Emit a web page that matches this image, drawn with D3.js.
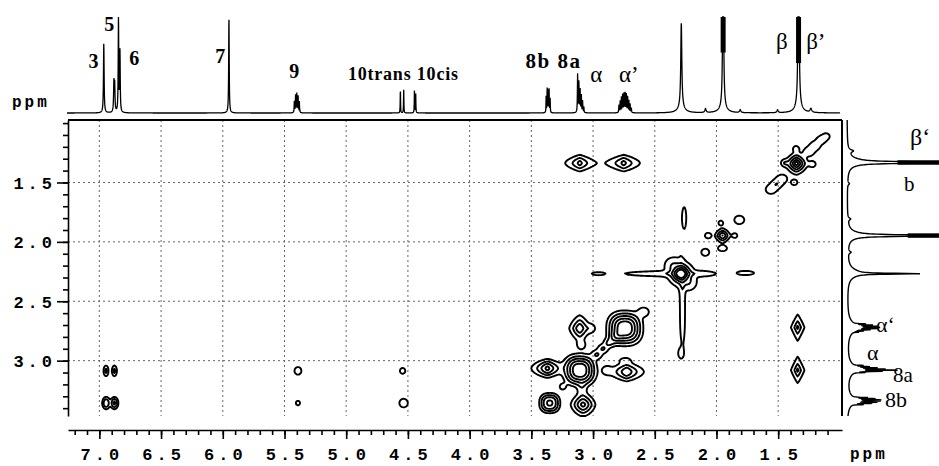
<!DOCTYPE html>
<html><head><meta charset="utf-8">
<script src="https://cdn.jsdelivr.net/npm/d3@7"></script>
<style>body{margin:0;background:#fff}svg{display:block}</style>
</head><body>
<svg id="c" width="939" height="466"></svg>
<script>
// ---------------- DATA ----------------
const xDomain = [7.254, 0.983];           // F2 (ppm)
const yDomain = [0.974, 3.466];           // F1 (ppm)
const xTicks = [7.0, 6.5, 6.0, 5.5, 5.0, 4.5, 4.0, 3.5, 3.0, 2.5, 2.0, 1.5];
const xTickLabels = ["7.0","6.5","6.0","5.5","5.0","4.5","4.0","3.5","3.0","2.5","2.0","1.5"];
const yTicks = [1.5, 2.0, 2.5, 3.0];
const yTickLabels = ["1.5","2.0","2.5","3.0"];
const axisUnit = "ppm";

// top 1D projection lines: [ppm, height (0-100), half width ppm]
const topLines = [
  [6.964,73,0.003],[6.882,30,0.003],[6.876,28,0.003],[6.845,99,0.0025],[6.833,63,0.0025],
  [5.950,100,0.0025],
  [5.420,12,0.002],[5.410,18,0.002],[5.400,20,0.002],[5.390,18,0.002],[5.380,12,0.002],
  [4.561,25,0.0015],[4.534,25,0.0015],[4.447,25,0.0015],[4.437,22,0.0015],
  [3.380,18,0.0015],[3.372,25,0.0015],[3.364,26,0.0015],[3.356,24,0.0015],[3.348,16,0.0015],
  [3.125,40,0.002],[3.115,33,0.002],[3.105,25,0.002],[3.095,18,0.002],[3.085,12,0.002],[3.075,6,0.002],
  [2.790,8,0.002],[2.780,12,0.002],[2.770,16,0.002],[2.760,19,0.002],[2.750,20,0.002],[2.740,20,0.002],
  [2.730,19,0.002],[2.720,17,0.002],[2.710,13,0.002],[2.700,9,0.002],[2.690,5,0.002],
  [2.285,88,0.005],[2.285,6,0.03],
  [2.089,4,0.006],
  [1.946,200,0.004],[1.946,6,0.03],
  [1.808,3,0.006],[1.505,3,0.006],
  [1.335,250,0.004],[1.335,7,0.03],
  [1.235,4,0.008]
];
// saturated (clipped) top peaks: [ppm, lower intensity of the black core]
const topSaturated = [[1.946, 63], [1.335, 52]];

// right 1D projection lines: [ppm, height (0-100), half width ppm]
const rightLines = [
  [1.234,5,0.012],
  [1.332,250,0.004],[1.325,12,0.035],
  [1.510,2,0.01],[1.807,3,0.01],
  [1.947,220,0.004],[1.940,10,0.035],
  [2.087,3,0.01],
  [2.268,68,0.004],[2.262,12,0.04],
  [2.690,12,0.002],[2.700,18,0.002],[2.710,22,0.002],[2.720,25,0.002],[2.730,22,0.002],
  [2.740,16,0.002],[2.750,10,0.002],[2.760,6,0.002],[2.720,10,0.05],
  [3.040,10,0.002],[3.050,15,0.002],[3.060,22,0.002],[3.070,30,0.002],[3.080,45,0.002],
  [3.090,30,0.002],[3.100,12,0.002],[3.070,9,0.05],
  [3.310,15,0.002],[3.320,22,0.002],[3.330,28,0.002],[3.340,28,0.002],[3.350,25,0.002],
  [3.360,20,0.002],[3.370,12,0.002],[3.335,8,0.045]
];
const rightSaturated = [[1.332, 55], [1.947, 66]];

// 2D cross / diagonal peaks: [F2 ppm, F1 ppm, rx ppm, ry ppm, height, shapeX, shapeY]
const crossPeaks = [
  // aromatic / olefinic correlations
  [6.946,3.086,0.020,0.045,0.30,2,2],[6.878,3.086,0.020,0.045,0.30,2,2],
  [6.945,3.357,0.032,0.052,0.45,2,2],[6.878,3.357,0.032,0.052,0.50,2,2],
  [5.391,3.086,0.028,0.032,0.17,2,2],[5.391,3.357,0.017,0.019,0.13,2,2],
  [4.543,3.086,0.022,0.024,0.14,2,2],[4.535,3.357,0.034,0.036,0.18,2,2],
  // beta correlations
  [3.108,1.337,0.118,0.070,0.55,1.1,1.7],[2.752,1.337,0.132,0.070,0.55,1.1,1.7],
  // beta diagonal
  [1.352,1.340,0.095,0.095,1.10,1.5,1.5],
  [1.560,1.560,0.040,0.035,0.20,2,2],[1.515,1.515,0.040,0.035,0.20,2,2],[1.470,1.470,0.040,0.035,0.20,2,2],
  [1.250,1.240,0.040,0.035,0.20,2,2],[1.200,1.190,0.040,0.035,0.20,2,2],[1.150,1.140,0.035,0.030,0.20,2,2],
  [1.110,1.110,0.025,0.022,0.16,2,2],
  [1.450,1.335,0.022,0.022,0.18,2,2],[1.370,1.500,0.024,0.022,0.18,2,2],
  [1.220,1.346,0.022,0.022,0.17,2,2],[1.356,1.215,0.020,0.020,0.17,2,2],
  // 1.94 diagonal group
  [1.951,1.947,0.060,0.060,0.70,1.6,1.6],[2.068,1.947,0.024,0.022,0.18,2,2],
  [2.090,2.087,0.028,0.026,0.18,2,2],[1.951,2.055,0.034,0.022,0.17,2,2],
  [1.815,1.815,0.040,0.035,0.18,2,2],[1.965,1.840,0.018,0.018,0.15,2,2],[1.850,1.947,0.018,0.018,0.15,2,2],
  // 2.27 diagonal (ring + star skirt) and ridges
  [2.289,2.268,0.085,0.085,1.00,2,2],
  [2.289,2.268,0.150,0.140,0.35,0.8,0.8],
  [2.360,2.190,0.035,0.035,0.15,2,2],[2.220,2.350,0.035,0.035,0.15,2,2],
  [2.262,1.796,0.016,0.085,0.20,2,2],[2.275,2.500,0.012,0.150,0.15,2,2],[2.275,2.720,0.012,0.110,0.14,2,2],
  [2.289,2.938,0.020,0.040,0.18,2,2],[2.550,2.268,0.160,0.013,0.15,2,2],[2.960,2.268,0.045,0.011,0.15,2,2],
  [1.764,2.262,0.065,0.016,0.18,2,2],[2.100,2.268,0.060,0.012,0.14,2,2],
  // alpha / 8a / 8b region
  [2.743,2.728,0.150,0.150,1.20,2.5,2.5],[2.590,2.590,0.040,0.035,0.20,2,2],
  [3.108,3.080,0.140,0.140,1.20,2.5,2.5],
  [2.970,2.950,0.040,0.035,0.25,2,2],[2.920,2.900,0.040,0.035,0.25,2,2],
  [2.870,2.850,0.040,0.035,0.25,2,2],[2.820,2.800,0.040,0.035,0.22,2,2],
  [3.351,3.357,0.085,0.085,0.75,2.5,2.5],
  [3.370,3.065,0.130,0.080,0.80,1.3,1.8],
  [3.081,3.370,0.100,0.100,0.80,1.6,1.6],[3.090,3.225,0.025,0.045,0.16,2,2],
  [3.108,2.728,0.085,0.110,0.70,1.4,1.4],[3.013,2.728,0.022,0.024,0.15,2,2],[3.094,2.870,0.026,0.026,0.16,2,2],
  [2.728,3.094,0.140,0.080,0.70,1.2,1.8],[2.890,3.080,0.026,0.026,0.16,2,2],
  [2.740,2.996,0.030,0.015,0.13,2,2],[3.247,3.220,0.022,0.022,0.15,2,2],
  [1.342,2.720,0.055,0.110,0.55,1.1,1.1],[1.342,3.080,0.055,0.110,0.55,1.1,1.1]
];
const contourLevels = [0.1, 0.25, 0.45, 0.7, 0.95];

// annotations
const topLabelText = ["3","5","6","7","9","10trans 10cis","8b 8a","α","α’","β","β’"];
const topLabelPpm  = [7.047,6.92,6.718,6.021,5.42,4.537,3.32,2.974,2.71,1.47,1.195];
const rightLabelText = ["β‘","b","α‘","α","8a","8b"];
const rightLabelPpm  = [1.184,1.575,2.761,2.996,3.18,3.39];

// ---------------- DRAW ----------------
const svg = d3.select("#c");
const x0 = 68, x1 = 842, y0 = 120, y1 = 416;
const x = d3.scaleLinear().domain(xDomain).range([x0, x1]);
const y = d3.scaleLinear().domain(yDomain).range([y0, y1]);
const topI = d3.scaleLinear().domain([0, 100]).range([113, 17]);
const rightI = d3.scaleLinear().domain([0, 100]).range([847, 939]);

const spec = (lines, p) => { let s = 0; for (const [c,h,w] of lines) { const d = p - c; s += h*w*w/(w*w + d*d); } return s; };

// grid
const grid = svg.append("g").attr("stroke", "#666").attr("stroke-width", 1).attr("stroke-dasharray", "2,3");
grid.selectAll("line.v").data(xTicks).join("line")
  .attr("x1", d => x(d)).attr("x2", d => x(d)).attr("y1", y0).attr("y2", y1);
grid.selectAll("line.h").data(yTicks).join("line")
  .attr("x1", x0).attr("x2", x1).attr("y1", d => y(d)).attr("y2", d => y(d));

// contours
const nx = x1 - x0, ny = y1 - y0;
const vals = new Float64Array(nx * ny);
const L0 = contourLevels[0];
for (const [cx, cy, rx, ry, h, px, py] of crossPeaks) {
  const k = Math.log(h / L0);
  const dmax = Math.log(h / 0.004) / k;
  const ex = rx * Math.pow(dmax, 1/px), ey = ry * Math.pow(dmax, 1/py);
  const ia = Math.max(0, Math.floor(x(cx + ex) - x0)), ib = Math.min(nx - 1, Math.ceil(x(cx - ex) - x0));
  const ja = Math.max(0, Math.floor(y(cy - ey) - y0)), jb = Math.min(ny - 1, Math.ceil(y(cy + ey) - y0));
  for (let j = ja; j <= jb; j++) {
    const fy = Math.pow(Math.abs((y.invert(y0 + j + 0.5) - cy) / ry), py);
    for (let i = ia; i <= ib; i++) {
      const fx = Math.pow(Math.abs((x.invert(x0 + i + 0.5) - cx) / rx), px);
      vals[j * nx + i] += h * Math.exp(-(fx + fy) * k);
    }
  }
}
const contours = d3.contours().size([nx, ny]).thresholds(contourLevels)(Array.from(vals));
const gpath = d3.geoPath(d3.geoIdentity().translate([x0, y0]));
svg.append("g").selectAll("path").data(contours).join("path")
  .attr("d", gpath).attr("fill", "none").attr("stroke", "#000")
  .attr("stroke-width", 1.9).attr("stroke-linejoin", "round");

// frame
const frame = svg.append("g").attr("stroke", "#000").attr("stroke-width", 2).attr("fill", "none");
frame.append("line").attr("x1", x0).attr("x2", x1).attr("y1", y0).attr("y2", y0);
frame.append("line").attr("x1", x1).attr("x2", x1).attr("y1", y0).attr("y2", y1);

// axes
const monoFont = "'Liberation Mono', 'DejaVu Sans Mono', monospace";
const yAxisMinor = d3.axisLeft(y).tickValues(d3.range(10, 35).map(v => v / 10)).tickSize(5).tickFormat("").tickSizeOuter(0);
svg.append("g").attr("transform", `translate(${x0},0)`).call(yAxisMinor)
  .call(g => g.selectAll("path,line").attr("stroke", "#000").attr("stroke-width", 1.6));
const yAxis = d3.axisLeft(y).tickValues(yTicks).tickSize(11).tickSizeOuter(0)
  .tickFormat((d, i) => yTickLabels[i]);
svg.append("g").attr("transform", `translate(${x0},0)`).call(yAxis)
  .call(g => g.select(".domain").remove())
  .call(g => g.selectAll("line").attr("stroke", "#000").attr("stroke-width", 1.6))
  .call(g => g.selectAll("text").attr("x", -12).attr("dy", "0.34em")
    .attr("font-family", monoFont).attr("font-weight", "bold").attr("font-size", 17)
    .attr("letter-spacing", "4px").attr("fill", "#000"));

const axY = 430;
const xAxisMinor = d3.axisBottom(x).tickValues(d3.range(11, 73).map(v => v / 10)).tickSize(5).tickFormat("").tickSizeOuter(0);
svg.append("g").attr("transform", `translate(0,${axY})`).call(xAxisMinor)
  .call(g => g.selectAll("path,line").attr("stroke", "#000").attr("stroke-width", 1.6));
const xAxis = d3.axisBottom(x).tickValues(xTicks).tickSize(9).tickSizeOuter(0)
  .tickFormat((d, i) => xTickLabels[i]);
svg.append("g").attr("transform", `translate(0,${axY})`).call(xAxis)
  .call(g => g.select(".domain").remove())
  .call(g => g.selectAll("line").attr("stroke", "#000").attr("stroke-width", 1.6))
  .call(g => g.selectAll("text").attr("y", 30).attr("dy", 0).attr("dx", 2)
    .attr("font-family", monoFont).attr("font-weight", "bold").attr("font-size", 17)
    .attr("letter-spacing", "4px").attr("fill", "#000"));

// unit labels
svg.append("text").attr("x", 12).attr("y", 107).text(axisUnit)
  .attr("font-family", monoFont).attr("font-weight", "bold").attr("font-size", 16).attr("letter-spacing", "3px");
svg.append("text").attr("x", 850).attr("y", 459).text(axisUnit)
  .attr("font-family", monoFont).attr("font-weight", "bold").attr("font-size", 16).attr("letter-spacing", "3px");

// top projection
const topPts = d3.range(67, 840.01, 0.15).map(px => { const p = x.invert(px); return [p, Math.min(100, spec(topLines, p))]; });
svg.append("path").attr("d", d3.line().x(d => x(d[0])).y(d => topI(d[1]))(topPts))
  .attr("fill", "none").attr("stroke", "#000").attr("stroke-width", 1.3);
svg.selectAll("line.tsat").data(topSaturated).join("line")
  .attr("x1", d => x(d[0])).attr("x2", d => x(d[0])).attr("y1", topI(100)).attr("y2", d => topI(d[1]))
  .attr("stroke", "#000").attr("stroke-width", 5);

// right projection
const rightPts = d3.range(y0, y1 + 0.01, 0.15).map(py => { const p = y.invert(py); return [p, Math.min(100, spec(rightLines, p))]; });
svg.append("path").attr("d", d3.line().x(d => rightI(d[1])).y(d => y(d[0]))(rightPts))
  .attr("fill", "none").attr("stroke", "#000").attr("stroke-width", 1.4);
svg.selectAll("line.rsat").data(rightSaturated).join("line")
  .attr("y1", d => y(d[0])).attr("y2", d => y(d[0])).attr("x1", d => rightI(d[1])).attr("x2", rightI(100))
  .attr("stroke", "#000").attr("stroke-width", 4.5);

// top labels
const serif = "'Liberation Serif', 'DejaVu Serif', serif";
const topLabelLayout = [
  {y: 68, size: 20, bold: true, ls: 0}, {y: 31, size: 20, bold: true, ls: 0}, {y: 65, size: 20, bold: true, ls: 0},
  {y: 63, size: 20, bold: true, ls: 0}, {y: 78, size: 20, bold: true, ls: 0},
  {y: 80, size: 18, bold: true, ls: 0.8}, {y: 68, size: 21, bold: true, ls: 1.5},
  {y: 82, size: 23, bold: false, ls: 0}, {y: 82, size: 23, bold: false, ls: 0},
  {y: 49, size: 23, bold: false, ls: 0}, {y: 49, size: 23, bold: false, ls: 0}
];
svg.append("g").selectAll("text").data(topLabelText).join("text")
  .attr("x", (d, i) => x(topLabelPpm[i])).attr("y", (d, i) => topLabelLayout[i].y)
  .attr("text-anchor", "middle").attr("font-family", serif)
  .attr("font-size", (d, i) => topLabelLayout[i].size)
  .attr("font-weight", (d, i) => topLabelLayout[i].bold ? "bold" : "normal")
  .attr("letter-spacing", (d, i) => topLabelLayout[i].ls + "px")
  .text(d => d);

// right labels
const rightLabelLayout = [
  {x: 910, size: 24}, {x: 904, size: 21}, {x: 876, size: 22},
  {x: 867, size: 22}, {x: 893, size: 21}, {x: 885, size: 22}
];
svg.append("g").selectAll("text").data(rightLabelText).join("text")
  .attr("x", (d, i) => rightLabelLayout[i].x).attr("y", (d, i) => y(rightLabelPpm[i]))
  .attr("font-family", serif).attr("font-size", (d, i) => rightLabelLayout[i].size)
  .text(d => d);
</script>
</body></html>
